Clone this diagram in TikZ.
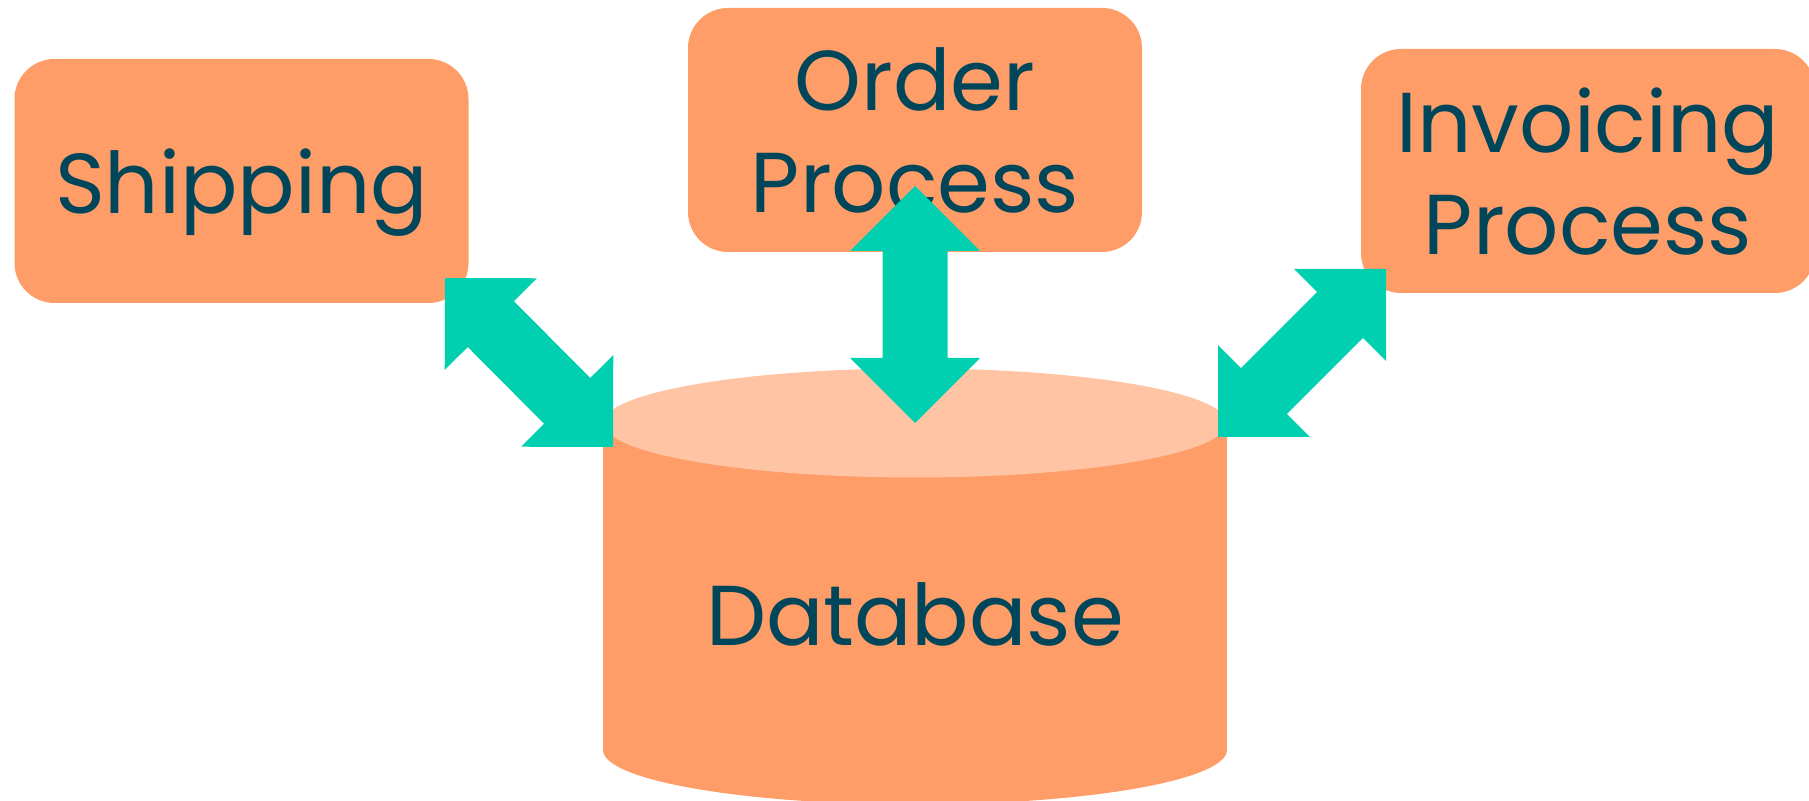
\documentclass[tikz,border=0pt]{standalone}
\usepackage{fontspec}
\setmainfont{Poppins}
\usetikzlibrary{calc}

\definecolor{boxorange}{HTML}{FF9D68}
\definecolor{lidpeach}{HTML}{FFC4A4}
\definecolor{linkteal}{HTML}{00CFB0}
\definecolor{labelink}{HTML}{00465A}

% fat arrow with a head at both ends, tip to tip
\newcommand{\twoway}[2]{%
	\coordinate (h1) at ($(#1)!32.5pt!(#2)$);
	\coordinate (h2) at ($(#2)!32.5pt!(#1)$);
	\fill[link] (#1) -- ($(h1)!32.5pt!90:(#2)$) -- ($(h1)!16.25pt!90:(#2)$)
		-- ($(h2)!16.25pt!-90:(#1)$) -- ($(h2)!32.5pt!-90:(#1)$) -- (#2)
		-- ($(h2)!32.5pt!90:(#1)$) -- ($(h2)!16.25pt!90:(#1)$)
		-- ($(h1)!16.25pt!-90:(#2)$) -- ($(h1)!32.5pt!-90:(#2)$) -- cycle;
}

\begin{document}
\begin{tikzpicture}[x=0.5pt, y=-0.5pt,
		proc/.style={fill=boxorange, rounded corners=20pt, minimum width=227pt, minimum height=122pt,
			inner sep=0pt, align=center, text=labelink, text depth=0pt, font=\fontsize{42.5}{51}\selectfont},
		link/.style={fill=linkteal}]
		\useasboundingbox (0, 0) rectangle (1809, 801);
		% process boxes
		\node[proc] (ship) at (241.5, 181) {Shipping};
		\node[proc] (order) at (915, 130) {Order\\Process};
		\node[proc] (invoice) at (1588, 171) {Invoicing\\Process};
		% database cylinder
		\fill[boxorange] (603, 423) rectangle (1227, 750);
		\fill[boxorange] (915, 750) ellipse [x radius=312, y radius=54.5];
		\fill[lidpeach] (915, 423) ellipse [x radius=312, y radius=54.5];
		\node[anchor=base, text=labelink, font=\fontsize{42.5}{51}\selectfont] (db) at (915, 645) {Database};
		% connectors
		\coordinate (ship-end) at (445, 278);
		\coordinate (db-left) at (613, 447);
		\coordinate (order-end) at (915, 186);
		\coordinate (db-top) at (915, 423);
		\coordinate (invoice-end) at (1386, 269);
		\coordinate (db-right) at (1218, 437);
		\twoway{ship-end}{db-left}
		\twoway{order-end}{db-top}
		\twoway{invoice-end}{db-right}
	\end{tikzpicture}
\end{document}
